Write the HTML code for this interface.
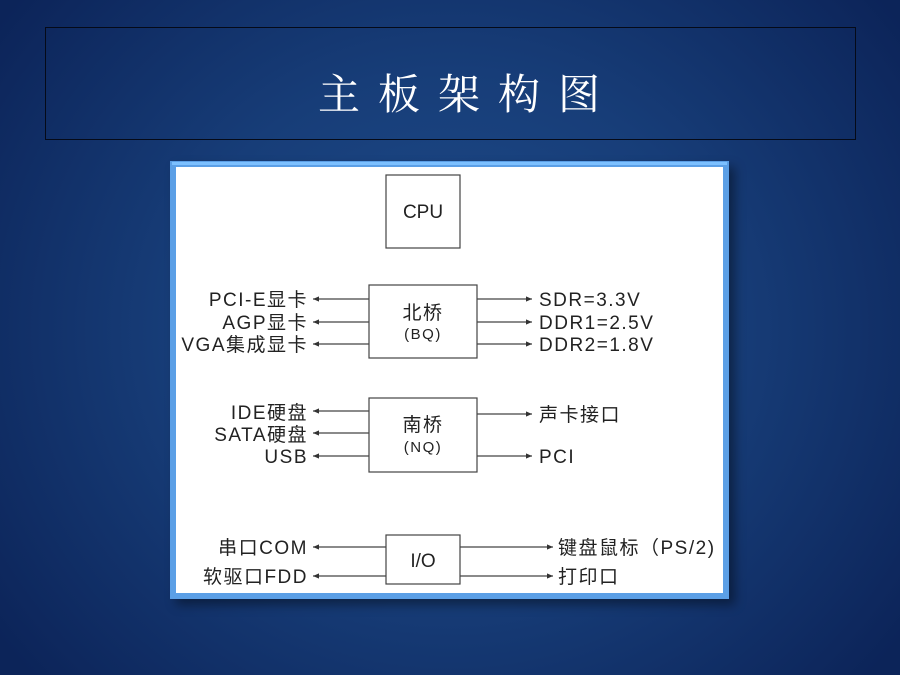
<!DOCTYPE html>
<html><head><meta charset="utf-8"><style>
html,body{margin:0;padding:0}
body{width:900px;height:675px;overflow:hidden;background:radial-gradient(ellipse 560px 520px at 450px 330px,#1f4d8c 0%,#173d78 50%,#0c2459 100%);position:relative;font-family:"Liberation Sans","Noto Sans CJK SC",sans-serif}
</style></head><body>
<div style="position:absolute;left:45px;top:27px;width:809px;height:111px;border:1px solid #050a18;"></div>
<div style="position:absolute;left:0;top:62px;width:900px;text-align:center;color:#fff;font-family:'Noto Serif CJK SC',serif;font-size:42px;letter-spacing:18px;padding-left:18px;line-height:60px">主板架构图</div>
<div style="position:absolute;left:170px;top:161px;width:559px;height:438px;background:#5b9fe6;box-shadow:6px 6px 10px rgba(0,0,0,0.4)"></div>
<div style="position:absolute;left:172px;top:162px;width:555px;height:3px;background:#7cc0ff"></div>
<svg style="position:absolute;left:0;top:0" width="900" height="675">
<defs><marker id="a" markerWidth="6" markerHeight="6" refX="5" refY="3" orient="auto"><path d="M0,0.8 L5,3 L0,5.2z" fill="#333"/></marker></defs>
<rect x="176" y="167" width="547" height="426" fill="#fff"/>
<g fill="none" stroke="#444" stroke-width="1.2">
<rect x="386" y="175" width="74" height="73"/>
<rect x="369" y="285" width="108" height="73"/>
<rect x="369" y="398" width="108" height="74"/>
<rect x="386" y="535" width="74" height="49"/>
</g>
<g stroke="#444" stroke-width="1.2" marker-end="url(#a)">
<line x1="369" y1="299" x2="313" y2="299"/><line x1="369" y1="322" x2="313" y2="322"/><line x1="369" y1="344" x2="313" y2="344"/>
<line x1="477" y1="299" x2="532" y2="299"/><line x1="477" y1="322" x2="532" y2="322"/><line x1="477" y1="344" x2="532" y2="344"/>
<line x1="369" y1="411" x2="313" y2="411"/><line x1="369" y1="433" x2="313" y2="433"/><line x1="369" y1="456" x2="313" y2="456"/>
<line x1="477" y1="414" x2="532" y2="414"/><line x1="477" y1="456" x2="532" y2="456"/>
<line x1="386" y1="547" x2="313" y2="547"/><line x1="386" y1="576" x2="313" y2="576"/>
<line x1="460" y1="547" x2="553" y2="547"/><line x1="460" y1="576" x2="553" y2="576"/>
</g>
<g fill="#222" font-family="Liberation Sans,Noto Sans CJK SC,sans-serif" font-size="19" letter-spacing="1.5">
<text x="423" y="218" text-anchor="middle" letter-spacing="0">CPU</text>
<text x="423" y="319" text-anchor="middle">北桥</text>
<text x="423" y="339" text-anchor="middle" font-size="15">(BQ)</text>
<text x="423" y="431" text-anchor="middle">南桥</text>
<text x="423" y="452" text-anchor="middle" font-size="15">(NQ)</text>
<text x="423" y="567" text-anchor="middle" letter-spacing="0">I/O</text>
<g text-anchor="end">
<text x="308" y="306">PCI-E显卡</text><text x="308" y="329">AGP显卡</text><text x="308" y="351">VGA集成显卡</text>
<text x="308" y="419">IDE硬盘</text><text x="308" y="441">SATA硬盘</text><text x="308" y="463">USB</text>
<text x="308" y="554">串口COM</text><text x="308" y="583">软驱口FDD</text>
</g>
<text x="539" y="306">SDR=3.3V</text><text x="539" y="329">DDR1=2.5V</text><text x="539" y="351">DDR2=1.8V</text>
<text x="539" y="421">声卡接口</text><text x="539" y="463">PCI</text>
<text x="558" y="554">键盘鼠标（PS/2)</text><text x="558" y="583">打印口</text>
</g>
</svg>
</body></html>
